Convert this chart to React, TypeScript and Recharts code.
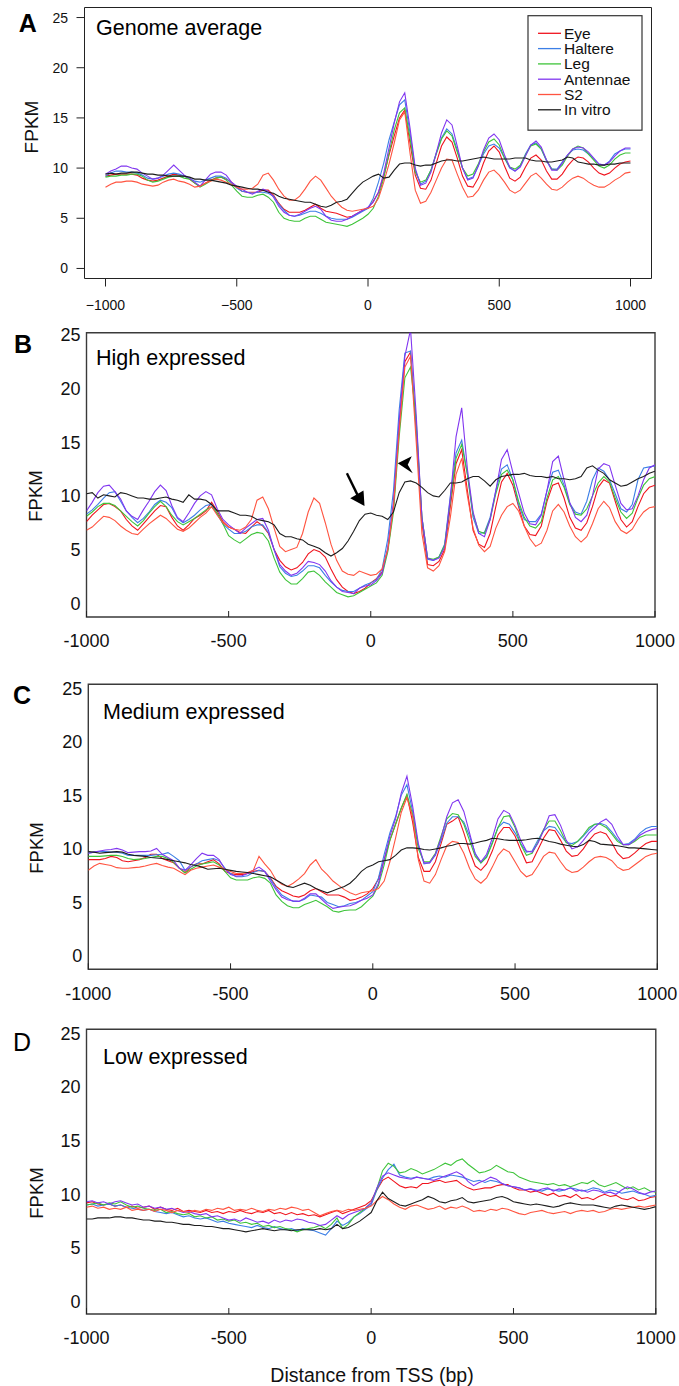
import React from 'react';
import { LineChart, Line, XAxis, YAxis, ReferenceArea, ReferenceDot } from 'recharts';

// Distance from TSS (bp)
const POSITIONS = [
  -1000, -980, -960, -940, -920, -900, -880, -860, -840, -820,
  -800, -780, -760, -740, -720, -700, -680, -660, -640, -620,
  -600, -580, -560, -540, -520, -500, -480, -460, -440, -420,
  -400, -380, -360, -340, -320, -300, -280, -260, -240, -220,
  -200, -180, -160, -140, -120, -100, -80, -60, -40, -20,
  0, 20, 40, 60, 80, 100, 120, 140, 160, 180,
  200, 220, 240, 260, 280, 300, 320, 340, 360, 380,
  400, 420, 440, 460, 480, 500, 520, 540, 560, 580,
  600, 620, 640, 660, 680, 700, 720, 740, 760, 780,
  800, 820, 840, 860, 880, 900, 920, 940, 960, 980,
  1000,
];

const X_TICKS = [-1000, -500, 0, 500, 1000];
const Y_TICKS = [0, 5, 10, 15, 20, 25];

const SERIES = [
  { key: 'eye', name: 'Eye', color: '#f0141e' },
  { key: 'hal', name: 'Haltere', color: '#3c7fe6' },
  { key: 'leg', name: 'Leg', color: '#3ec43a' },
  { key: 'ant', name: 'Antennae', color: '#8136f0' },
  { key: 's2', name: 'S2', color: '#ff5440' },
  { key: 'vit', name: 'In vitro', color: '#1c1c1c' },
];

// ---------- A: Genome average ----------
const A_EYE = [
  9.2, 9.3, 9.4, 9.4, 9.4, 9.4, 9.3, 9.0, 8.8, 8.7,
  8.8, 9.0, 9.2, 9.4, 9.3, 9.2, 8.9, 8.5, 8.2, 8.5,
  8.8, 9.0, 9.1, 8.9, 8.6, 8.1, 7.7, 7.6, 7.6, 7.6,
  7.8, 7.8, 7.3, 6.5, 5.9, 5.6, 5.6, 5.6, 5.8, 6.1,
  6.4, 6.0, 5.7, 5.6, 5.5, 5.3, 5.1, 5.2, 5.5, 5.8,
  6.0, 6.7, 7.6, 9.2, 11.3, 13.2, 15.0, 15.8, 12.5, 9.3,
  8.0, 7.9, 8.8, 10.5, 12.2, 13.1, 12.6, 11.0, 9.2, 8.2,
  8.1, 9.0, 10.5, 11.7, 12.2, 11.6, 10.2, 9.0, 8.7, 9.1,
  10.1, 11.0, 11.3, 10.8, 9.7, 8.9, 8.9, 9.4, 10.2, 10.8,
  11.1, 11.0, 10.6, 10.0, 9.5, 9.3, 9.5, 10.0, 10.4, 10.6,
  10.7,
];
const A_HAL = [
  9.2, 9.5, 9.7, 9.7, 9.6, 9.6, 9.5, 9.3, 9.0, 8.9,
  9.0, 9.2, 9.4, 9.5, 9.4, 9.2, 9.0, 8.7, 8.6, 8.8,
  9.0, 9.2, 9.2, 9.0, 8.5, 8.0, 7.7, 7.6, 7.5, 7.6,
  7.6, 7.5, 7.2, 6.4, 5.8, 5.3, 5.2, 5.3, 5.5, 5.7,
  5.7, 5.5, 5.2, 5.0, 4.9, 4.9, 4.9, 5.1, 5.4, 5.7,
  6.0, 7.0, 8.6, 10.5, 12.8, 14.6, 16.3, 16.8, 13.5, 9.8,
  8.4, 8.7, 9.8, 11.5, 13.0, 13.9, 13.4, 11.8, 10.0, 8.9,
  9.1, 10.2, 11.4, 12.2, 12.4, 12.0, 11.0, 10.0, 9.7, 10.2,
  11.4, 12.3, 12.5, 11.9, 10.7, 9.9, 9.9, 10.6, 11.3, 11.8,
  11.9, 11.8, 11.4, 10.9, 10.4, 10.3, 10.7, 11.4, 11.7, 11.9,
  11.9,
];
const A_LEG = [
  9.1, 9.2, 9.2, 9.3, 9.3, 9.4, 9.4, 9.2, 8.8, 8.6,
  8.7, 8.9, 9.1, 9.2, 9.2, 9.0, 8.9, 8.5, 8.1, 8.4,
  8.7, 9.0, 9.1, 8.8, 8.3, 7.7, 7.2, 7.1, 7.1, 7.3,
  7.4, 7.1, 6.6, 5.6, 5.0, 4.8, 4.7, 4.7, 5.0, 5.2,
  5.2, 4.9, 4.6, 4.5, 4.4, 4.3, 4.2, 4.4, 4.7, 5.0,
  5.4, 6.0, 7.2, 9.0, 11.5, 13.8, 15.5, 16.0, 13.0, 9.6,
  8.6, 8.8, 9.8, 11.4, 12.9, 13.7, 13.2, 11.6, 10.0, 9.2,
  9.4, 10.4, 11.6, 12.6, 12.9, 12.3, 11.0, 10.1, 9.9, 10.3,
  11.3, 12.2, 12.4, 11.9, 10.8, 9.9, 9.8, 10.3, 11.2, 11.9,
  12.2, 12.0, 11.4, 10.8, 10.2, 10.0, 10.3, 10.9, 11.3, 11.5,
  11.5,
];
const A_ANT = [
  9.4, 9.7, 9.9, 10.2, 10.2, 10.0, 9.9, 9.5, 9.2, 8.9,
  9.0, 9.3, 9.8, 10.3, 9.8, 9.3, 9.0, 8.6, 8.2, 8.8,
  9.4, 9.6, 9.6, 9.3, 8.6, 8.2, 7.9, 7.6, 7.4, 7.7,
  7.9, 7.7, 7.1, 6.2, 5.6, 5.3, 5.2, 5.4, 5.7, 6.0,
  6.2, 5.9, 5.2, 4.8, 4.7, 4.7, 4.9, 5.2, 5.5, 5.8,
  6.1, 6.6, 7.6, 9.5, 12.0, 14.5, 16.6, 17.5, 14.0, 10.0,
  8.3, 8.5, 9.6, 11.5, 13.5, 14.8, 14.3, 12.2, 10.0, 8.8,
  9.0, 10.2, 11.8, 13.0, 13.4, 12.8, 11.3, 10.1, 9.7, 10.1,
  11.2, 12.3, 12.7, 12.1, 10.8, 9.8, 9.8, 10.5, 11.3, 11.9,
  12.1, 12.0, 11.6, 11.0, 10.4, 10.3, 10.6, 11.2, 11.7, 12.0,
  12.0,
];
const A_S2 = [
  8.1, 8.4, 8.6, 8.6, 8.7, 8.7, 8.6, 8.4, 8.3, 8.2,
  8.3, 8.6, 8.8, 8.9, 8.7, 8.6, 8.4, 8.1, 8.2, 8.5,
  8.7, 8.9, 8.8, 8.6, 8.4, 8.1, 7.9, 7.9, 8.0, 8.4,
  9.3, 9.5, 8.8, 7.9, 7.2, 6.8, 6.8, 7.2, 7.9, 8.7,
  9.2, 8.8, 8.0, 7.2, 6.6, 6.1, 5.8, 5.7, 5.8, 5.9,
  6.0, 6.2, 7.0, 8.6, 10.4, 12.5, 14.8, 15.6, 11.5, 7.8,
  6.5, 6.7, 7.6, 8.8, 10.0, 10.9, 10.8, 9.4, 8.1, 7.1,
  7.2, 7.8, 8.8, 9.6, 9.8, 9.3, 8.6, 7.8, 7.5, 7.8,
  8.5, 9.2, 9.5, 9.0, 8.4, 7.9, 7.8, 8.1, 8.6, 9.0,
  9.2, 9.0, 8.6, 8.3, 8.1, 8.1, 8.4, 8.8, 9.1, 9.5,
  9.6,
];
const A_VIT = [
  9.4, 9.5, 9.4, 9.5, 9.5, 9.6, 9.6, 9.5, 9.4, 9.4,
  9.3, 9.3, 9.2, 9.2, 9.2, 9.2, 9.1, 8.9, 8.9, 8.8,
  8.8, 8.7, 8.6, 8.5, 8.3, 8.2, 8.1, 8.0, 7.9, 7.9,
  7.8, 7.6, 7.5, 7.2, 7.0, 6.9, 6.8, 6.7, 6.6, 6.6,
  6.4, 6.2, 6.1, 6.3, 6.6, 6.7, 6.9, 7.5, 8.1, 8.6,
  8.9, 9.2, 9.4, 9.0, 9.1, 9.8, 10.4, 10.5, 10.5, 10.3,
  10.2, 10.3, 10.3, 10.5, 10.7, 10.8, 10.8, 10.7, 10.7, 10.8,
  10.9, 11.0, 11.1, 11.0, 10.9, 10.9, 10.9, 10.9, 11.0, 11.0,
  11.0, 10.8, 10.7, 10.7, 10.6, 10.6, 10.7, 10.8, 11.1, 11.0,
  10.6, 10.5, 10.4, 10.4, 10.3, 10.3, 10.4, 10.4, 10.5, 10.5,
  10.5,
];

// ---------- B: High expressed ----------
const B_EYE = [
  7.6, 8.2, 8.7, 9.2, 9.3, 9.0, 8.6, 7.8, 7.2, 6.8,
  7.4, 8.0, 8.6, 9.1, 9.0, 8.0, 7.2, 6.8, 7.3, 7.9,
  8.2, 8.6, 9.4, 8.6, 7.6, 7.1, 6.9, 6.6, 6.5, 7.1,
  7.6, 7.2, 6.5, 5.0, 4.0, 3.4, 3.1, 3.3, 3.8, 4.6,
  5.0, 4.8, 4.3, 3.2, 2.2, 1.5, 1.1, 0.9, 1.1, 1.4,
  1.9, 2.3, 2.9, 5.0, 9.0, 16.5, 22.5, 23.4, 16.0, 7.5,
  3.6, 3.5, 3.9, 5.0, 9.0, 13.0, 14.3, 10.5, 6.8, 5.5,
  5.2, 6.5, 9.0, 11.3, 12.1, 11.0, 9.0, 7.2, 6.4, 6.3,
  7.2, 9.5, 11.0, 11.2, 9.8, 8.0, 7.0, 6.8, 7.5, 9.0,
  10.8, 11.5, 11.2, 9.5, 7.8, 7.1, 7.6, 9.0, 10.2, 10.8,
  11.0,
];
const B_HAL = [
  8.3, 8.7, 9.2, 9.8, 10.3, 10.4, 9.5, 8.6, 8.0, 7.5,
  7.9, 8.5, 9.2, 9.6, 9.4, 8.9, 7.9, 7.5, 7.8, 8.2,
  8.7, 9.1, 9.2, 8.3, 7.4, 6.9, 6.5, 6.5, 6.7, 7.1,
  7.3, 7.3, 6.6, 5.0, 3.4, 2.8, 2.5, 2.6, 3.0, 3.5,
  3.5, 3.3, 2.6, 2.0, 1.5, 1.2, 1.1, 1.1, 1.4, 1.7,
  1.9, 2.2, 3.2, 6.0, 10.5, 18.0, 23.3, 23.5, 16.5, 8.0,
  4.1, 4.0, 4.3, 5.5, 10.0, 14.0, 15.2, 12.0, 8.0, 6.5,
  6.6, 8.0, 10.5, 12.5, 12.9, 11.5, 9.2, 7.8, 7.6, 7.6,
  8.3, 10.5, 12.2, 12.4, 11.0, 9.3, 8.5, 8.3, 9.5, 11.5,
  12.6, 12.3, 11.5, 10.2, 8.8, 8.5, 9.2, 11.5, 12.6, 12.7,
  12.8,
];
const B_LEG = [
  8.1, 8.5, 9.0, 9.3, 9.3, 9.1, 8.6, 8.1, 7.6, 7.2,
  7.7, 8.4, 9.0, 9.5, 9.0, 8.2, 7.6, 7.3, 7.6, 7.9,
  8.3, 8.7, 9.0, 8.4, 7.4, 6.3, 5.9, 5.6, 6.0, 6.4,
  6.6, 6.5, 5.8, 4.2, 2.9, 2.2, 1.8, 1.8, 2.3, 2.9,
  3.0, 2.6, 2.0, 1.5, 1.0, 0.8, 0.6, 0.7, 1.0, 1.3,
  1.6, 1.9, 2.6, 4.8, 8.5, 15.5, 21.0, 22.0, 17.0, 8.0,
  4.2, 4.1, 4.3, 5.4, 9.5, 13.5, 14.8, 12.0, 8.3, 6.7,
  6.5, 7.8, 10.2, 12.0, 12.4, 11.5, 9.5, 8.0, 7.2, 7.0,
  7.6, 9.8, 11.5, 11.8, 10.8, 9.2, 8.3, 8.2, 8.8, 10.0,
  11.2, 11.8, 11.3, 9.8, 8.5, 7.9, 8.4, 9.8, 11.0, 11.6,
  11.8,
];
const B_ANT = [
  8.6, 9.4, 10.3, 10.9, 11.0, 10.4, 9.7, 8.6, 8.1, 7.8,
  8.7, 9.5, 10.4, 11.0, 10.5, 9.1, 8.0, 7.6, 8.4, 9.3,
  10.0, 10.4, 10.1, 8.8, 7.8, 7.3, 6.9, 6.5, 7.0, 7.4,
  7.8, 7.9, 6.8, 5.0, 3.6, 3.0, 2.6, 2.8, 3.3, 3.9,
  3.8, 3.6, 3.0, 2.1, 1.5, 1.1, 1.0, 0.9, 1.4, 1.6,
  1.7, 2.1, 2.8, 5.2, 9.5, 17.0, 23.0, 25.5, 17.5, 8.0,
  4.2, 4.0, 4.2, 5.2, 9.8, 15.5, 18.2, 12.5, 8.5, 6.5,
  6.2, 7.8, 10.5, 13.4, 14.3, 12.2, 10.3, 8.4, 7.4, 7.3,
  8.2, 10.5, 13.2, 13.7, 11.5, 9.4, 8.0, 7.6, 8.2, 10.0,
  12.5, 13.0, 12.8, 11.0, 9.3, 8.7, 8.8, 10.0, 11.5, 12.6,
  12.9,
];
const B_S2 = [
  6.8, 7.1, 7.6, 8.1, 8.0, 7.7, 7.2, 6.8, 6.5, 6.4,
  6.9, 7.4, 7.8, 8.2, 7.9, 7.4, 6.9, 6.7, 7.0, 7.5,
  8.0, 8.4, 9.0, 8.2, 7.5, 7.1, 6.9, 6.8, 7.1, 7.8,
  9.6, 9.9, 8.8, 7.0, 5.3, 4.8, 5.0, 5.2, 6.5, 8.5,
  9.8, 9.3, 7.5, 5.5, 4.0, 3.0, 2.7, 2.6, 3.0, 2.8,
  2.6, 2.7, 3.2, 5.0, 9.0, 16.0, 22.0, 23.0, 15.0, 6.5,
  3.3, 3.0, 3.5, 4.8, 8.0, 12.0, 13.5, 10.0, 7.0, 5.4,
  4.8, 5.3, 7.0, 8.2, 9.0, 9.3, 8.6, 7.2, 6.0, 5.3,
  5.6, 6.8, 8.6, 9.2, 8.5, 7.2, 6.2, 5.7, 6.2, 7.4,
  8.8, 9.5, 8.9, 7.6, 6.8, 6.5, 6.9, 7.8, 8.5, 8.9,
  9.0,
];
const B_VIT = [
  10.2, 10.3, 9.8, 10.1, 10.0, 9.9, 10.3, 10.2, 10.0, 9.8,
  9.8, 9.7, 9.7, 9.8, 9.9, 9.7, 9.6, 9.4, 10.1, 9.7,
  9.7, 9.6, 9.2, 8.6, 8.6, 8.6, 8.4, 8.2, 8.2, 8.1,
  7.8, 7.7, 7.6, 7.3, 6.5, 6.2, 6.2, 6.0, 5.9, 5.5,
  5.3, 5.1, 4.7, 4.4, 4.7, 5.1, 5.8, 6.7, 7.7, 8.3,
  8.4, 8.2, 8.1, 7.8, 8.5, 10.3, 11.3, 11.4, 11.2, 10.8,
  10.3, 10.0, 9.9, 10.5, 11.2, 11.2, 11.3, 11.6, 11.8, 11.8,
  11.4, 10.9, 11.5, 11.8, 11.9, 12.0, 12.0, 12.1, 11.9, 11.8,
  11.8, 11.7, 11.8, 11.6, 11.6, 11.5, 11.6, 11.8, 12.6, 12.8,
  12.4, 12.1, 11.5, 11.2, 10.9, 11.0, 11.3, 11.6, 11.8, 12.1,
  12.3,
];

// ---------- C: Medium expressed ----------
const C_EYE = [
  9.0, 9.0, 9.0, 9.1, 9.3, 9.2, 8.9, 8.8, 8.9, 9.0,
  9.2, 9.5, 9.5, 9.1, 8.9, 8.7, 8.2, 7.8, 8.3, 8.6,
  8.6, 8.8, 9.0, 8.6, 7.9, 7.7, 7.6, 7.6, 7.7, 7.9,
  8.0, 7.9, 7.3, 6.5, 6.1, 5.85, 5.6, 5.5, 5.7, 6.1,
  6.3, 6.0, 5.7, 5.7, 5.7, 5.5, 5.2, 5.3, 5.5, 5.8,
  6.3, 7.2, 9.0, 10.8, 12.3, 13.8, 15.0, 12.5, 9.2, 7.9,
  7.9, 8.8, 10.5, 12.3, 12.6, 13.0, 11.5, 9.8, 8.4, 8.0,
  8.6, 9.8, 11.3, 12.0, 12.0, 11.2, 9.9, 8.7, 8.8, 9.9,
  11.0, 11.8, 11.7, 10.8, 9.8, 9.3, 9.4, 10.0, 10.8, 11.4,
  11.6, 11.4, 10.6, 9.6, 9.1, 9.2, 9.6, 10.1, 10.5, 10.7,
  10.7,
];
const C_HAL = [
  9.6, 9.7, 9.75, 9.75, 9.7, 9.7, 9.6, 9.4, 9.4, 9.4,
  9.4, 9.4, 9.45, 9.5, 9.65, 9.3, 8.9, 8.0, 8.3, 8.6,
  8.9, 9.0, 9.1, 8.9, 8.2, 7.7, 7.4, 7.4, 7.5, 7.8,
  8.0, 7.9, 7.2, 6.4, 5.7, 5.4, 5.1, 5.1, 5.3, 5.7,
  5.6, 5.5, 5.0, 4.8, 4.6, 4.7, 4.9, 5.0, 5.2, 5.6,
  6.0, 7.3, 9.5, 11.5, 13.0, 15.0, 16.0, 13.5, 10.3, 8.6,
  8.7, 9.4, 10.8, 12.4, 13.0, 13.0, 12.5, 11.2, 9.6, 8.7,
  9.3, 10.6, 12.0, 12.5, 12.3, 11.5, 10.5, 9.7, 9.8, 10.8,
  11.7, 12.1, 12.0, 11.3, 10.6, 10.5, 10.7, 11.2, 11.8, 12.3,
  12.4, 12.2, 11.6, 10.9, 10.4, 10.5, 10.9, 11.5, 11.9, 12.1,
  12.1,
];
const C_LEG = [
  9.3, 9.3, 9.3, 9.35, 9.4, 9.4, 9.3, 9.1, 9.0, 9.05,
  9.1, 9.2, 9.3, 9.3, 9.1, 8.75, 8.2, 7.75, 8.1, 8.4,
  8.6, 8.7, 8.8, 8.5, 7.9, 7.3, 7.1, 7.1, 7.1, 7.3,
  7.4, 7.25, 6.8, 5.7, 5.1, 4.7, 4.5, 4.5, 4.8, 5.0,
  5.2, 4.9, 4.6, 4.2, 4.1, 4.25, 4.3, 4.3, 4.6, 5.1,
  5.6, 6.6, 8.5, 10.8, 12.3, 13.8, 15.1, 13.2, 10.0, 8.8,
  8.8, 9.6, 11.2, 12.8, 13.3, 13.2, 12.3, 10.8, 9.3, 8.7,
  9.2, 10.5, 12.0, 13.0, 13.1, 12.0, 10.4, 9.4, 9.6, 10.6,
  11.8, 12.6, 12.6, 11.7, 10.6, 10.3, 10.7, 11.3, 12.0, 12.3,
  12.3, 12.0, 11.4, 10.7, 10.4, 10.4, 10.7, 11.1, 11.3, 11.3,
  11.3,
];
const C_ANT = [
  9.6, 9.7, 9.8, 9.9, 9.95, 10.05, 9.9, 9.65, 9.7, 9.75,
  9.75, 9.8, 10.05, 9.5, 9.2, 8.9, 8.2, 8.0, 8.5, 9.1,
  9.6, 9.4, 9.4, 9.0, 8.1, 7.6, 7.45, 7.5, 7.7, 8.0,
  8.3, 7.9, 7.0, 6.2, 5.5, 5.25, 5.15, 5.1, 5.4, 5.8,
  5.8, 5.3, 4.8, 4.45, 4.55, 4.65, 4.7, 4.9, 5.2, 5.4,
  5.7, 6.8, 9.0, 11.2, 12.8, 15.2, 16.8, 14.0, 10.5, 8.7,
  8.7, 9.5, 11.0, 13.0, 14.3, 14.6, 13.5, 11.5, 9.5, 8.8,
  9.5, 11.0, 12.8, 13.6, 13.3, 12.2, 10.8, 9.8, 9.7, 10.5,
  11.7, 13.1, 13.2, 12.2, 10.8, 10.0, 10.2, 10.8, 11.5, 12.0,
  12.5, 12.8, 12.3, 11.2, 10.4, 10.4, 10.8, 11.3, 11.6, 11.8,
  11.9,
];
const C_S2 = [
  8.0, 8.4, 8.65, 8.55, 8.45, 8.25, 8.2, 8.2, 8.25, 8.3,
  8.4, 8.55, 8.65, 8.45, 8.3, 8.2, 7.9, 7.6, 8.0, 8.2,
  8.3, 8.4, 8.5, 8.3, 8.1, 7.9, 7.7, 7.7, 7.8, 8.0,
  9.3, 8.6, 8.0, 7.1, 6.7, 6.5, 6.8, 7.2, 7.7, 8.5,
  9.0, 8.1, 7.6, 7.0, 6.6, 6.2, 5.9, 5.7, 5.9, 6.0,
  6.1, 6.3, 7.0, 8.8, 11.0, 13.4, 14.8, 13.0, 9.0, 7.0,
  6.8, 7.6, 9.0, 10.3, 10.7, 10.6, 9.6, 8.2, 7.2, 6.8,
  7.3, 8.3, 9.4, 10.0, 9.7, 8.8, 7.9, 7.4, 7.6, 8.4,
  9.3, 9.7, 9.6, 8.8, 8.1, 7.8, 7.9, 8.3, 8.8, 9.2,
  9.3, 9.2, 8.9, 8.3, 8.0, 8.1, 8.5, 8.9, 9.3, 9.5,
  9.6,
];
const C_VIT = [
  9.75, 9.7, 9.6, 9.65, 9.7, 9.75, 9.7, 9.5, 9.4, 9.35,
  9.3, 9.2, 9.15, 9.1, 9.0, 8.9, 8.8, 8.7, 8.55, 8.45,
  8.3, 8.1, 8.15, 8.2, 8.1, 8.0, 7.9, 7.85, 7.8, 7.7,
  7.6, 7.5, 7.4, 7.1, 6.8, 6.5, 6.4, 6.6, 6.8, 6.6,
  6.3, 6.1, 5.9, 6.1, 6.3, 6.5, 6.8, 7.3, 7.9, 8.3,
  8.5, 8.8, 8.9, 9.0, 9.4, 9.9, 10.1, 10.1, 10.05, 9.95,
  9.9, 10.0, 10.1, 10.25, 10.35, 10.5, 10.5, 10.45, 10.55, 10.7,
  10.8, 11.0, 10.95, 10.85, 10.8, 10.8, 10.8, 10.85, 10.95, 11.0,
  10.85, 10.7, 10.6, 10.45, 10.35, 10.25, 10.2, 10.4, 10.8, 10.7,
  10.45, 10.4, 10.35, 10.3, 10.2, 10.1, 10.1, 10.05, 10.0, 9.95,
  9.9,
];

// ---------- D: Low expressed ----------
const D_EYE = [
  9.2, 9.3, 9.1, 9.0, 9.1, 8.9, 9.0, 8.8, 8.9, 8.7,
  8.8, 8.9, 8.6, 8.8, 8.6, 8.5, 8.7, 8.4, 8.5, 8.4,
  8.3, 8.5, 8.3, 8.4, 8.2, 8.4, 8.3, 8.5, 8.3, 8.2,
  8.4, 8.3, 8.5, 8.2, 8.3, 8.1, 8.3, 8.1, 8.2, 8.0,
  8.1, 7.9, 8.1, 8.3, 8.5, 8.2, 8.4, 8.6, 8.8, 9.0,
  9.4, 10.4, 11.3, 11.6, 11.2, 10.8, 10.6, 10.7, 10.6, 11.0,
  11.0, 11.2, 11.3, 11.1, 11.2, 11.3, 10.9, 10.6, 10.4, 10.5,
  10.6, 10.6, 10.8, 10.9, 10.9, 10.6, 10.4, 10.4, 10.2, 10.3,
  10.1, 9.9, 10.1, 9.8, 9.9, 9.7, 10.0, 9.6, 9.7, 9.5,
  9.8, 10.0, 9.8, 9.9, 9.6, 9.5, 9.7, 9.4, 9.5, 9.7,
  9.8,
];
const D_HAL = [
  9.0, 9.1, 8.9, 9.0, 9.1, 8.9, 9.0, 8.8, 8.7, 8.6,
  8.5, 8.6, 8.4, 8.3, 8.2, 8.3, 8.1, 7.9, 8.0, 7.8,
  7.7, 7.8, 7.6, 7.4, 7.5, 7.3, 7.2, 7.1, 7.0, 6.9,
  7.1, 6.9, 6.8, 7.0, 6.8, 6.7, 6.8, 6.6, 6.8, 6.7,
  6.6, 6.4, 6.2, 6.8, 7.5, 7.1, 7.4, 7.9, 8.2, 8.6,
  9.0, 10.4, 11.5, 12.3, 12.8, 11.8, 11.6, 11.5, 11.6, 11.5,
  11.4, 11.6, 11.7, 11.6, 11.8, 11.7, 11.6, 11.4, 11.2, 11.3,
  11.1, 11.3, 11.2, 11.0, 10.8, 10.7, 10.6, 10.4, 10.5, 10.4,
  10.3, 10.5, 10.4, 10.3, 10.4, 10.6, 10.5, 10.3, 10.4, 10.6,
  10.5, 10.2, 10.4, 10.3, 10.1, 10.2, 10.3, 10.1, 10.0, 9.8,
  9.9,
];
const D_LEG = [
  9.0, 9.1, 9.2, 9.0, 9.2, 9.1, 9.3, 9.0, 8.8, 8.9,
  8.7, 8.6, 8.5, 8.6, 8.3, 8.4, 8.2, 8.1, 8.2, 7.9,
  8.0, 7.8, 7.9, 7.6, 7.7, 7.5, 7.6, 7.3, 7.4, 7.2,
  7.3, 7.0, 7.1, 6.9, 7.0, 6.8, 6.7, 6.5, 6.7, 6.8,
  6.9, 7.1, 6.8, 7.2, 7.8, 6.8, 7.2, 7.9, 8.3, 8.7,
  9.2, 10.5, 12.2, 12.9, 12.6, 12.0, 12.1, 12.4, 12.2, 11.9,
  12.1, 12.3, 12.6, 12.9, 12.7, 13.1, 13.3, 12.8, 12.4, 12.0,
  12.1, 12.3, 12.7, 12.4, 12.1, 12.0, 11.6, 11.4, 11.2, 11.1,
  11.0, 10.9, 11.0, 10.8, 10.9, 10.7, 10.9, 11.1, 11.0, 11.3,
  10.9, 10.7, 10.9, 11.1, 10.8, 10.5, 10.7, 10.4, 10.6, 10.3,
  10.2,
];
const D_ANT = [
  9.3, 9.4, 9.2, 9.3, 9.1, 9.3, 9.4, 9.2, 9.0, 9.1,
  8.8, 8.9, 8.7, 8.8, 8.6, 8.7, 8.5, 8.3, 8.4, 8.2,
  8.1, 8.2, 7.9, 8.0, 7.8, 7.6, 7.7, 7.5, 7.8, 7.6,
  7.4, 7.5, 7.3, 7.6, 7.4, 7.6, 7.5, 7.7, 7.6, 7.4,
  7.3, 7.1, 7.2, 7.6, 8.0, 7.7, 8.1, 8.3, 8.5, 8.7,
  9.2, 10.6, 11.7, 12.0, 11.8, 11.6, 11.5, 11.4, 11.6, 11.5,
  11.4, 11.3, 11.5, 11.7, 11.9, 12.1, 11.8, 11.2, 10.8, 11.1,
  11.3, 11.6, 11.4, 11.0, 10.8, 10.7, 10.6, 10.4, 10.5, 10.3,
  10.5, 10.6, 10.3, 10.5, 10.4, 10.6, 10.3, 10.4, 10.2, 10.4,
  10.3, 10.1, 10.2, 10.0, 10.4, 10.7, 10.5, 10.2, 10.0, 10.2,
  10.3,
];
const D_S2 = [
  8.8, 8.9, 8.7, 8.8, 8.6, 8.7, 8.6, 8.8, 8.5, 8.6,
  8.5, 8.6, 8.4, 8.6, 8.5, 8.3, 8.5, 8.4, 8.3, 8.5,
  8.4, 8.6, 8.5, 8.7, 8.6, 8.8, 8.5, 8.6, 8.5, 8.7,
  8.5, 8.4, 8.6, 8.5, 8.7, 8.6, 8.8, 8.7, 8.5, 8.6,
  8.3, 8.0, 8.2, 8.4, 8.5, 8.4, 8.6, 8.5, 8.6, 8.7,
  8.9, 9.4, 9.8, 9.5, 9.1, 8.8, 8.6, 8.9, 9.0, 8.8,
  8.6, 8.7, 8.9, 8.6, 8.8, 8.7, 8.9, 8.7, 8.4, 8.5,
  8.4, 8.6, 8.5, 8.7, 8.6, 8.4, 8.2, 8.1, 8.3, 8.4,
  8.5, 8.3, 8.2, 8.3, 8.4, 8.2, 8.4, 8.5, 8.4, 8.5,
  8.3, 8.4, 8.6, 8.7, 8.6, 8.7, 8.8, 8.9, 8.8, 8.9,
  9.0,
];
const D_VIT = [
  7.7, 7.7, 7.8, 7.8, 7.8, 7.9, 7.9, 7.8, 7.8, 7.7,
  7.6, 7.6, 7.5, 7.5, 7.4, 7.4, 7.3, 7.2, 7.2, 7.1,
  7.1, 7.0, 7.0, 6.9, 6.8, 6.8, 6.7, 6.6, 6.5, 6.6,
  6.7, 6.8, 6.7, 6.6, 6.7, 6.7, 6.6, 6.7, 6.7, 6.7,
  6.7, 6.8, 6.7, 6.8, 7.2, 6.8, 6.9, 7.2, 7.5, 7.9,
  8.3, 9.4, 10.2, 9.6, 9.3, 9.0, 8.9, 9.1, 9.3, 9.5,
  9.8, 9.6, 9.3, 9.2, 9.4, 9.5, 9.7, 9.3, 9.2, 9.3,
  9.4, 9.5, 9.7, 9.8, 9.6, 9.3, 9.2, 9.1, 9.0, 9.1,
  9.0, 8.9, 8.8, 8.9, 9.1, 9.2, 9.1, 9.0, 9.0, 9.0,
  8.9, 8.8, 8.7, 8.9, 9.0, 8.9, 8.8, 8.7, 8.6, 8.7,
  8.85,
];

const PANEL_TITLES = ['Genome average', 'High expressed', 'Medium expressed', 'Low expressed'];
const PANEL_LETTERS = ['A', 'B', 'C', 'D'];

function buildRows(eye: number[], hal: number[], leg: number[], ant: number[], s2: number[], vit: number[]) {
  return POSITIONS.map((x, i) => ({ x, eye: eye[i], hal: hal[i], leg: leg[i], ant: ant[i], s2: s2[i], vit: vit[i] }));
}

const DATA = [
  buildRows(A_EYE, A_HAL, A_LEG, A_ANT, A_S2, A_VIT),
  buildRows(B_EYE, B_HAL, B_LEG, B_ANT, B_S2, B_VIT),
  buildRows(C_EYE, C_HAL, C_LEG, C_ANT, C_S2, C_VIT),
  buildRows(D_EYE, D_HAL, D_LEG, D_ANT, D_S2, D_VIT),
];

const FONT = "'Liberation Sans', Arial, Helvetica, sans-serif";
const W = 679;
const AXIS_W = 60;
const AXIS_H = 40;

// layout of each panel (pixel boxes)
const LAYOUT = [
  { top: 0, h: 330, box: { l: 84.5, r: 651.5, t: 7.5, b: 278.5 }, xd: [-1080, 1080], yd: [-1, 26], rStyle: true },
  { top: 325, h: 340, box: { l: 86.5, r: 655, t: 332.7, b: 617 }, xd: [-1000, 1000], yd: [-1.28, 25.2], rStyle: false },
  { top: 670, h: 340, box: { l: 88.3, r: 657.3, t: 684.3, b: 969.3 }, xd: [-1000, 1000], yd: [-1.24, 25.37], rStyle: false },
  { top: 1015, h: 340, box: { l: 86.5, r: 655.8, t: 1029.3, b: 1314 }, xd: [-1000, 1000], yd: [-1.15, 25.37], rStyle: false },
];

const ArrowDown = (p: any) => {
  const { cx, cy } = p;
  return (
    <g>
      <line x1={cx - 17.6} y1={cy - 32.7} x2={cx - 7} y2={cy - 11} stroke="#000" strokeWidth={2.4} />
      <polygon points={`${cx},${cy} ${cx - 14.3},${cy - 7.7} ${cx - 1},${cy - 15.3}`} fill="#000" />
    </g>
  );
};
const ArrowHead = (p: any) => {
  const { cx, cy } = p;
  return <polygon points={`${cx},${cy} ${cx + 14},${cy - 7} ${cx + 10},${cy + 1.5} ${cx + 15},${cy + 10}`} fill="#000" />;
};

function Panel({ idx }: { idx: number }) {
  const L = LAYOUT[idx];
  const data = DATA[idx];
  const margin = {
    top: L.box.t - L.top,
    bottom: L.top + L.h - L.box.b - AXIS_H,
    left: L.box.l - AXIS_W,
    right: W - L.box.r,
  };
  const fmt = (v: number) => (L.rStyle && v < 0 ? '\u2212' + Math.abs(v) : String(v));
  const tickFs = L.rStyle ? 14 : 18;
  return (
    <div style={{ position: 'absolute', left: 0, top: L.top, width: W, height: L.h }}>
      <LineChart width={W} height={L.h} data={data} margin={margin}>
        <XAxis
          dataKey="x"
          type="number"
          domain={L.xd}
          ticks={X_TICKS}
          interval={0}
          allowDataOverflow
          axisLine={false}
          tickLine={{ stroke: '#222', strokeWidth: 1 }}
          tickSize={L.rStyle ? 8 : -6}
          tickMargin={L.rStyle ? 13.6 : 23.7}
          height={AXIS_H}
          tickFormatter={fmt}
          tick={{ fontSize: tickFs, fill: '#111', fontFamily: FONT }}
        />
        <YAxis
          type="number"
          domain={L.yd}
          ticks={Y_TICKS}
          interval={0}
          allowDataOverflow
          axisLine={false}
          tickLine={L.rStyle ? { stroke: '#222', strokeWidth: 1 } : false}
          tickSize={L.rStyle ? 8 : 0}
          tickMargin={L.rStyle ? 8.5 : 6}
          width={AXIS_W}
          tick={{ fontSize: tickFs, fill: '#111', fontFamily: FONT }}
        />
        <ReferenceArea
          x1={L.xd[0]}
          x2={L.xd[1]}
          y1={L.yd[0]}
          y2={L.yd[1]}
          fill="none"
          fillOpacity={0}
          stroke={L.rStyle ? '#222' : '#3a3a3a'}
          strokeWidth={L.rStyle ? 1 : 1.4}
          ifOverflow="visible"
        />
        {SERIES.map((s) => (
          <Line
            key={s.key}
            dataKey={s.key}
            name={s.name}
            stroke={s.color}
            strokeWidth={1.1}
            dot={false}
            activeDot={false}
            type="linear"
            isAnimationActive={false}
          />
        ))}
        {idx === 1 && <ReferenceDot x={-22} y={9.07} r={0} ifOverflow="visible" shape={ArrowDown} />}
        {idx === 1 && <ReferenceDot x={95} y={13.05} r={0} ifOverflow="visible" shape={ArrowHead} />}
      </LineChart>
    </div>
  );
}

export default function App() {
  const letterPos = [
    { x: 27.7, y: 23, bold: true },
    { x: 23, y: 344, bold: true },
    { x: 22, y: 695, bold: true },
    { x: 22, y: 1042, bold: false },
  ];
  const titlePos = [
    { x: 96, y: 28 },
    { x: 96, y: 358 },
    { x: 103, y: 712 },
    { x: 103, y: 1057 },
  ];
  const fpkmPos = [
    { x: 31.5, y: 127, fs: 19 },
    { x: 35, y: 496, fs: 18.5 },
    { x: 36.5, y: 848, fs: 18.5 },
    { x: 36.5, y: 1193, fs: 18.5 },
  ];
  const leg = { x: 528, y: 15.7, w: 114, h: 114.5 };
  return (
    <div style={{ position: 'absolute', left: 0, top: 0, width: W, height: 1386, background: '#fff', fontFamily: FONT }}>
      {[0, 1, 2, 3].map((i) => (
        <Panel key={i} idx={i} />
      ))}
      <svg width={W} height={1386} style={{ position: 'absolute', left: 0, top: 0, pointerEvents: 'none' }}>
        {PANEL_LETTERS.map((t, i) => (
          <text key={t} x={letterPos[i].x} y={letterPos[i].y} textAnchor="middle" dominantBaseline="central"
            fontSize={25} fontWeight={letterPos[i].bold ? 'bold' : 'normal'} fontFamily={FONT} fill="#000">{t}</text>
        ))}
        {PANEL_TITLES.map((t, i) => (
          <text key={t} x={titlePos[i].x} y={titlePos[i].y} dominantBaseline="central" fontSize={21.5}
            fontFamily={FONT} fill="#000">{t}</text>
        ))}
        {fpkmPos.map((p, i) => (
          <text key={i} x={p.x} y={p.y} textAnchor="middle" dominantBaseline="central" fontSize={p.fs}
            fontFamily={FONT} fill="#111" transform={`rotate(-90 ${p.x} ${p.y})`}>FPKM</text>
        ))}
        <text x={372} y={1375} textAnchor="middle" dominantBaseline="central" fontSize={19.5} fontFamily={FONT} fill="#111">
          Distance from TSS (bp)
        </text>
        <rect x={leg.x} y={leg.y} width={leg.w} height={leg.h} fill="#fff" stroke="#333" strokeWidth={1.2} />
        {SERIES.map((s, i) => (
          <g key={s.key}>
            <line x1={538} x2={561} y1={33.3 + 15.3 * i} y2={33.3 + 15.3 * i} stroke={s.color} strokeWidth={1.3} />
            <text x={564} y={33.3 + 15.3 * i} dominantBaseline="central" fontSize={15.5} fontFamily={FONT} fill="#111">{s.name}</text>
          </g>
        ))}
      </svg>
    </div>
  );
}
